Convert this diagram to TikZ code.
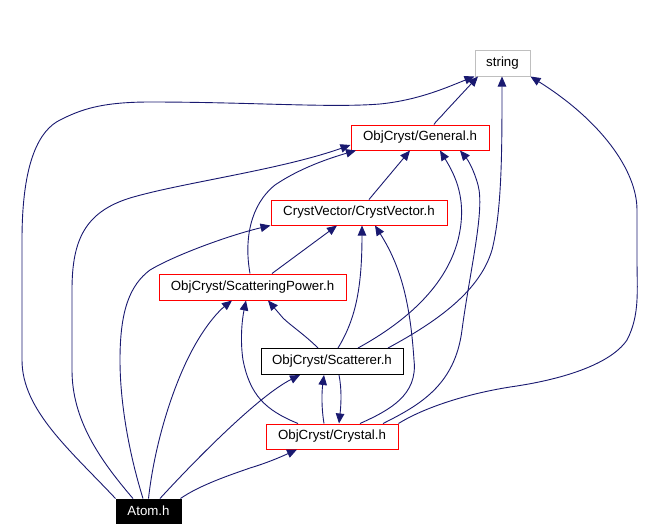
\documentclass[tikz,border=0pt]{standalone}
\usepackage{fontspec}
\setmainfont{Liberation Sans}
\usetikzlibrary{arrows.meta}
\definecolor{navy}{HTML}{191970}
\definecolor{boxred}{HTML}{FF0000}
\definecolor{boxgray}{HTML}{BFBFBF}
\newcommand{\lblfont}{\fontsize{13.3}{16}\selectfont}
\tikzset{
  box/.style={draw, line width=1pt, inner sep=0pt, font=\lblfont, text=black, fill=white},
  redbox/.style={box, draw=boxred},
  graybox/.style={box, draw=boxgray},
  blackbox/.style={box, draw=black},
  filledbox/.style={box, draw=black, fill=black, text=white},
  edge/.style={draw=navy, line width=0.9pt, -{Triangle[length=10pt,width=8.5pt]}, fill=none}
}
\begin{document}
\begin{tikzpicture}[x=1pt,y=-1pt]
\useasboundingbox (0,0) rectangle (657,531);
\node[graybox, minimum width=55pt, minimum height=26pt] (string) at (502.5,63) {string};
\node[redbox, minimum width=138pt, minimum height=25pt] (general) at (420,137.5) {ObjCryst/General.h};
\node[redbox, minimum width=176pt, minimum height=25pt] (cv) at (359,212.5) {CrystVector/CrystVector.h};
\node[redbox, minimum width=187pt, minimum height=26pt] (sp) at (252.5,287) {ObjCryst/ScatteringPower.h};
\node[blackbox, minimum width=142pt, minimum height=26pt] (scat) at (332,361.5) {ObjCryst/Scatterer.h};
\node[redbox, minimum width=132pt, minimum height=25pt] (crystal) at (332,436.5) {ObjCryst/Crystal.h};
\node[filledbox, minimum width=65pt, minimum height=24pt] (atom) at (148.5,511) {Atom.h};

% General -> string
\draw[edge] ([xshift=14pt]general.north) .. controls (436,121) and (440,118) .. (445,112) -- ([xshift=-24.5pt]string.south);
% Atom -> string
\draw[edge] (atom.north west) .. controls (70,450) and (22,410) .. (22,360) -- (22,240)
  .. controls (22,160) and (40,130) .. (60,120) .. controls (80,110) and (100,102) .. (150,102)
  .. controls (250,102) and (330,108) .. (380,104)
  .. controls (420,100) and (450,86) .. (string.south west);
% Atom -> General
\draw[edge] ([xshift=-15.5pt]atom.north) .. controls (100,460) and (72,420) .. (72,370) -- (72,290)
  .. controls (72,240) and (85,212) .. (130,198) .. controls (180,183) and (280,170) .. ([yshift=-7.5pt]general.west);
% ScatteringPower -> General
\draw[edge] ([xshift=-2.5pt]sp.north) .. controls (244,240) and (250,205) .. (275,185)
  .. controls (300,168) and (330,158) .. ([xshift=-64pt]general.south);
% Atom -> CrystVector
\draw[edge] ([xshift=-5.5pt]atom.north) .. controls (128,450) and (120,400) .. (120,360)
  .. controls (120,310) and (130,285) .. (150,270) .. controls (175,255) and (230,235) .. (cv.south west);
% Atom -> ScatteringPower
\draw[edge] (atom.north) .. controls (155,440) and (175,380) .. (195,345)
  .. controls (208,322) and (220,310) .. ([xshift=-20.5pt]sp.south);
% Atom -> Scatterer
\draw[edge] ([xshift=11.5pt]atom.north) .. controls (200,455) and (260,395) .. ([xshift=-32pt]scat.south);
% Atom -> Crystal
\draw[edge] ([xshift=-1pt]atom.north east) .. controls (200,485) and (230,475) .. (250,468)
  .. controls (270,462) and (285,455) .. ([xshift=-35pt]crystal.south);
% ScatteringPower -> CrystVector
\draw[edge] ([xshift=19.5pt]sp.north) -- ([xshift=-22pt]cv.south);
% CrystVector -> General
\draw[edge] ([xshift=10pt]cv.north) -- ([xshift=-10pt]general.south);
% Scatterer -> ScatteringPower
\draw[edge] ([xshift=-14pt]scat.north) .. controls (305,335) and (290,325) .. (283,318) -- ([xshift=15.5pt]sp.south);
% Scatterer -> CrystVector
\draw[edge] ([xshift=6pt]scat.north) .. controls (355,320) and (362,290) .. ([xshift=3pt]cv.south);
% Scatterer -> General
\draw[edge] ([xshift=26pt]scat.north) .. controls (400,325) and (445,290) .. (458,240)
  .. controls (468,200) and (455,175) .. ([xshift=20pt]general.south);
% Scatterer -> string
\draw[edge] ([xshift=56pt]scat.north) .. controls (440,320) and (480,290) .. (492,250)
  .. controls (502,210) and (502,150) .. ([xshift=-0.5pt]string.south);
% Scatterer -> Crystal
\draw[edge] ([xshift=7pt]scat.south) .. controls (342,390) and (341,405) .. ([xshift=7pt]crystal.north);
% Crystal -> Scatterer
\draw[edge] ([xshift=-8pt]crystal.north) .. controls (321,405) and (322,390) .. ([xshift=-8pt]scat.south);
% Crystal -> ScatteringPower
\draw[edge] ([xshift=-34pt]crystal.north) .. controls (265,410) and (250,395) .. (243,360)
  .. controls (240,340) and (242,320) .. ([xshift=-6.5pt]sp.south);
% Crystal -> CrystVector
\draw[edge] ([xshift=28pt]crystal.north) .. controls (390,410) and (418,395) .. (414,360)
  .. controls (410,300) and (400,265) .. ([xshift=16pt]cv.south);
% Crystal -> General
\draw[edge] ([xshift=51pt]crystal.north) .. controls (420,405) and (455,385) .. (462,330)
  .. controls (470,270) and (485,210) .. (478,185) .. controls (474,170) and (468,160) .. ([xshift=40pt]general.south);
% Crystal -> string
\draw[edge] (crystal.north east) .. controls (420,410) and (460,395) .. (510,387)
  .. controls (560,380) and (610,365) .. (627,340) .. controls (640,315) and (637,290) .. (637,260)
  -- (637,210) .. controls (637,170) and (600,120) .. (string.south east);
\end{tikzpicture}
\end{document}
